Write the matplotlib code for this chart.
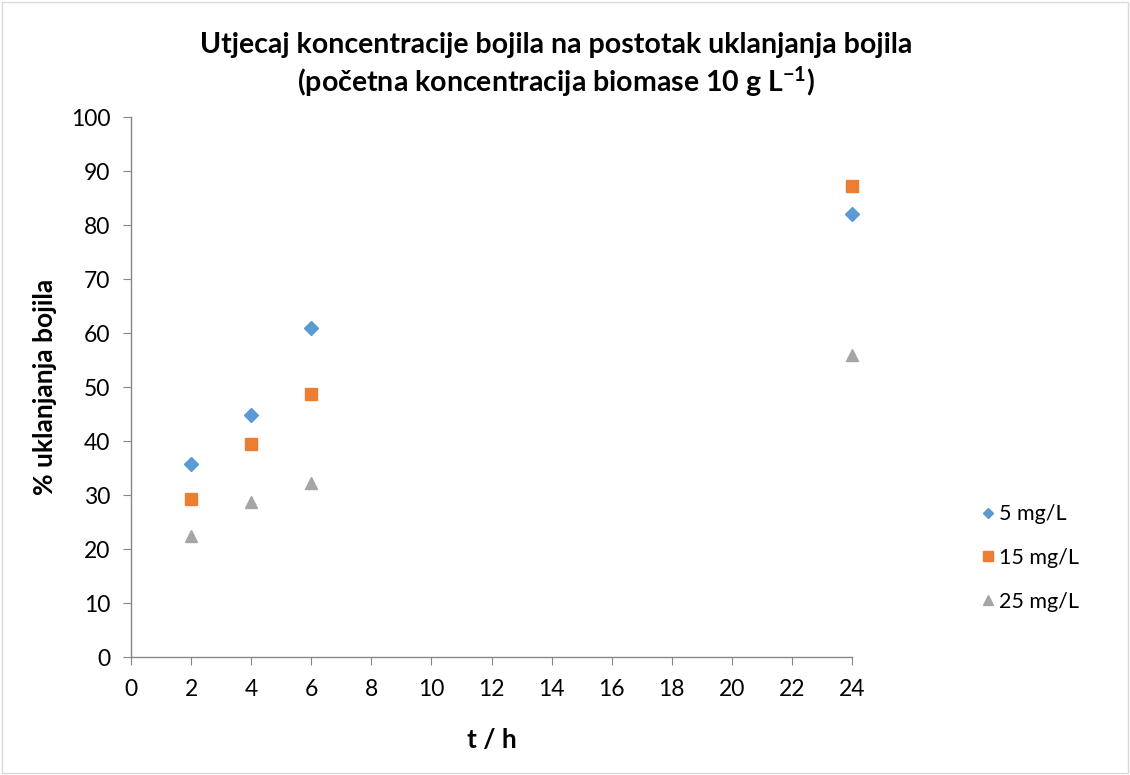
import matplotlib
matplotlib.use("Agg")
import matplotlib.pyplot as plt
from matplotlib.patches import Rectangle

plt.rcParams['font.family'] = ['Lato', 'DejaVu Sans']
plt.rcParams['mathtext.fontset'] = 'custom'
plt.rcParams['mathtext.rm'] = 'Lato:bold'
plt.rcParams['mathtext.bf'] = 'Lato:bold'
plt.rcParams['mathtext.default'] = 'rm'

time_h = [2, 4, 6, 24]
series_labels = ['5 mg/L', '15 mg/L', '25 mg/L']
removal_5 = [35.7, 44.8, 60.9, 82.0]
removal_15 = [29.3, 39.4, 48.7, 87.2]
removal_25 = [22.4, 28.7, 32.2, 55.9]
x_ticks = list(range(0, 25, 2))
y_ticks = list(range(0, 101, 10))

fig = plt.figure(figsize=(11.3, 7.75), dpi=100)
W, H = 1130, 775
ax = fig.add_axes([131 / W, 1 - 657 / H, (852 - 131) / W, (657 - 117) / H])

ax.plot(time_h, removal_5, linestyle='none', marker='D', markersize=7,
        color='#5B9BD5', label=series_labels[0], clip_on=False)
ax.plot(time_h, removal_15, linestyle='none', marker='s', markersize=9,
        color='#ED7D31', label=series_labels[1], clip_on=False)
ax.plot(time_h, removal_25, linestyle='none', marker='^', markersize=9,
        color='#A5A5A5', label=series_labels[2], clip_on=False)

ax.set_xlim(0, 24)
ax.set_ylim(0, 100)
ax.set_xticks(x_ticks)
ax.set_yticks(y_ticks)
for s in ['top', 'right']:
    ax.spines[s].set_visible(False)
for s in ['left', 'bottom']:
    ax.spines[s].set_color('#868686')
    ax.spines[s].set_linewidth(1.0)
ax.tick_params(axis='both', direction='out', length=6, color='#868686',
               labelsize=16.5, labelcolor='#000000')
ax.tick_params(axis='x', pad=10)
ax.tick_params(axis='y', pad=9)

ax.set_xlabel('t / h', fontsize=19, fontweight='bold', labelpad=20)
ax.set_ylabel('% uklanjanja bojila', fontsize=19, fontweight='bold', labelpad=10)

fig.text(556 / W, 1 - 45 / H,
         'Utjecaj koncentracije bojila na postotak uklanjanja bojila',
         ha='center', va='center', fontsize=20.5, fontweight='bold')
fig.text(556 / W, 1 - 82 / H,
         r'(početna koncentracija biomase 10 g L$^{-1}$)',
         ha='center', va='center', fontsize=20.5, fontweight='bold')

leg = ax.legend(loc='center left', bbox_to_anchor=(956 / W, 1 - 558 / H),
                bbox_transform=fig.transFigure, frameon=False, fontsize=15.5,
                handletextpad=-0.1, labelspacing=1.1, markerscale=0.8,
                handlelength=1.2)

fig.patches.append(Rectangle((2 / W, 2 / H), (W - 4) / W, (H - 4) / H,
                             transform=fig.transFigure, fill=False,
                             edgecolor='#D9D9D9', linewidth=1.0))

fig.savefig('out.png', dpi=100)
